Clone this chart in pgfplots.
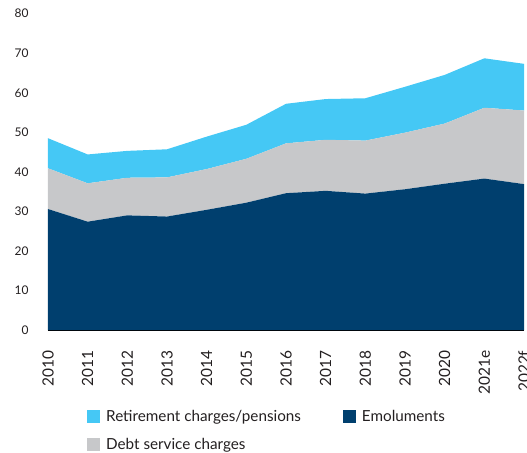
\documentclass[border=0pt]{standalone}
\usepackage{fontspec}
\setmainfont{Lato}
\usepackage{pgfplots}
\pgfplotsset{compat=1.18}
\usepackage{pgfplotstable}
\definecolor{navy}{HTML}{003F6E}
\definecolor{midgrey}{HTML}{C7C8CA}
\definecolor{skyblue}{HTML}{45C8F5}
\definecolor{txt}{HTML}{231F20}

% x: 0 = 2010 ... 12 = 2022f
\pgfplotstableread{
x emol debt retire
0  30.6 10.3  7.6
1  27.4  9.7  7.3
2  29.0  9.5  6.8
3  28.7  9.9  7.1
4  30.4 10.3  8.2
5  32.2 11.1  8.6
6  34.6 12.6 10.0
7  35.2 12.9 10.3
8  34.5 13.4 10.7
9  35.6 14.3 11.6
10 37.0 15.2 12.3
11 38.3 17.9 12.5
12 36.9 18.6 11.8
}\budget

\begin{document}
\begin{tikzpicture}
\begin{axis}[
  scale only axis, width=476bp, height=316.5bp,
  xmin=0, xmax=12, ymin=0, ymax=80,
  stack plots=y,
  axis lines*=left,
  y axis line style={draw=none},
  x axis line style={draw=black, line width=0.9bp},
  major tick length=0pt,
  ytick={0,10,...,80},
  xtick={0,...,12},
  xticklabels={2010,2011,2012,2013,2014,2015,2016,2017,2018,2019,2020,2021e,2022f},
  tick label style={text=txt},
  yticklabel style={font=\fontsize{12}{14}\selectfont, anchor=east, xshift=-16bp},
  xticklabel style={font=\fontsize{15.5}{17}\selectfont, rotate=90, anchor=east, xshift=-17bp},
  /pgf/number format/assume math mode=true,
  legend columns=2,
  legend cell align=left,
  legend style={at={(rel axis cs:0,0)}, anchor=north west, xshift=36bp, yshift=-75.5bp,
    draw=none, fill=none, font=\fontsize{15.3}{17}\selectfont, text=txt,
    row sep=11.5bp,
    /tikz/every odd column/.append style={column sep=4bp},
    /tikz/every even column/.append style={column sep=40bp}},
  legend image code/.code={\fill[#1] (0bp,-6.5bp) rectangle (13bp,6.5bp);},
  clip=false,
]
\addplot[draw=none, fill=navy, forget plot] table[x=x, y=emol] {\budget} \closedcycle;
\addplot[draw=none, fill=midgrey, forget plot] table[x=x, y=debt] {\budget} \closedcycle;
\addplot[draw=none, fill=skyblue, forget plot] table[x=x, y=retire] {\budget} \closedcycle;
\addlegendimage{fill=skyblue, draw=none}
\addlegendentry{Retirement charges/pensions}
\addlegendimage{fill=navy, draw=none}
\addlegendentry{Emoluments}
\addlegendimage{fill=midgrey, draw=none}
\addlegendentry{Debt service charges}
\coordinate (bl) at (rel axis cs:0,0);
\coordinate (tr) at (rel axis cs:1,1);
\end{axis}
\pgfresetboundingbox
\path[use as bounding box] ([xshift=-48bp, yshift=-122bp]bl) rectangle ([xshift=3bp, yshift=13.6bp]tr);
\end{tikzpicture}
\end{document}
